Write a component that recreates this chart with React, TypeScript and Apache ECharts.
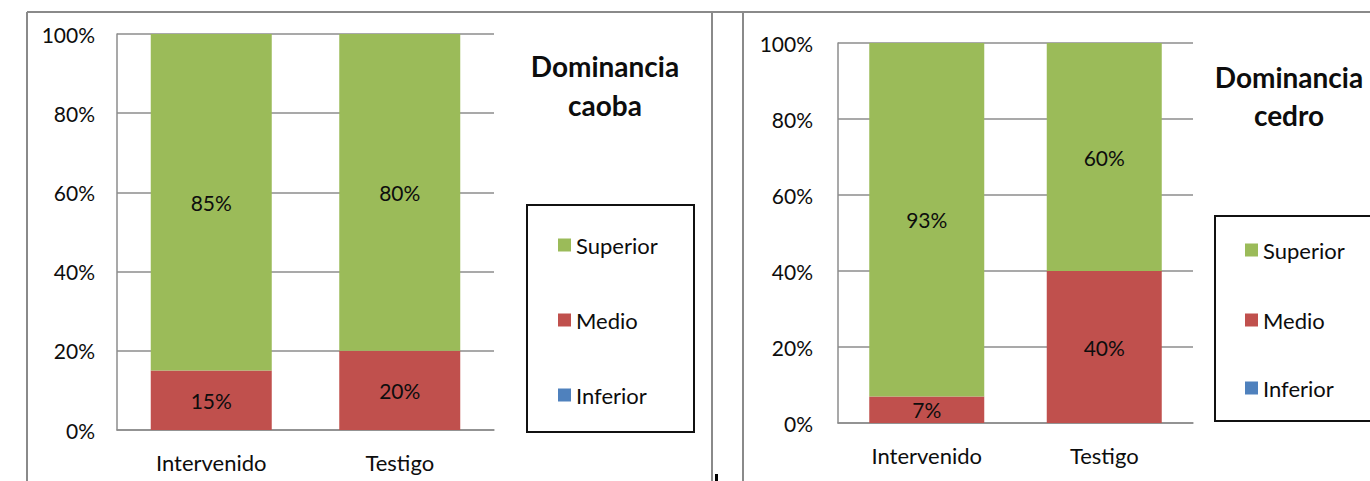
import React, { useEffect, useRef } from "react";
import * as echarts from "echarts";

const categories = ["Intervenido", "Testigo"];
const seriesNames = ["Inferior", "Medio", "Superior"];
const caobaInferior = [0, 0];
const caobaMedio = [0.15, 0.2];
const caobaSuperior = [0.85, 0.8];
const cedroInferior = [0, 0];
const cedroMedio = [0.07, 0.4];
const cedroSuperior = [0.93, 0.6];
const yTicks = [0, 0.2, 0.4, 0.6, 0.8, 1];
const titles = ["Dominancia\ncaoba", "Dominancia\ncedro"];

const COLORS: Record<string, string> = {
  Superior: "#9BBB59",
  Medio: "#C0504D",
  Inferior: "#4F81BD",
};
const FONT = "Lato";
const GRID = "#8c8c8c";
const TXT = "#0d0d0d";

export default function App() {
  const ref = useRef<HTMLDivElement>(null);
  useEffect(() => {
    if (!ref.current) return;
    const chart = echarts.init(ref.current, undefined, { renderer: "svg" });
    const pct = (v: number) => Math.round(v * 100) + "%";

    const mkY = (gridIndex: number, margin: number) => ({
      type: "value",
      gridIndex,
      min: yTicks[0],
      max: yTicks[yTicks.length - 1],
      interval: yTicks[1] - yTicks[0],
      axisLine: { show: true, lineStyle: { color: GRID, width: 1.5 } },
      axisTick: { show: false },
      splitLine: { show: true, lineStyle: { color: GRID, width: 1.5 } },
      axisLabel: {
        formatter: (v: number) => pct(v),
        fontFamily: FONT,
        fontSize: 21,
        color: TXT,
        margin,
      },
    });
    const mkX = (gridIndex: number) => ({
      type: "category",
      gridIndex,
      data: categories,
      axisLine: { show: true, lineStyle: { color: GRID, width: 1.5 } },
      axisTick: { show: false },
      axisLabel: { fontFamily: FONT, fontSize: 22, color: TXT, margin: 21 },
    });

    const dataSets = [
      { Inferior: caobaInferior, Medio: caobaMedio, Superior: caobaSuperior },
      { Inferior: cedroInferior, Medio: cedroMedio, Superior: cedroSuperior },
    ];
    const barWidths = [121, 115];
    const series: any[] = [];
    dataSets.forEach((ds: any, gi) => {
      seriesNames.forEach((name) => {
        series.push({
          type: "bar",
          name,
          stack: "s" + gi,
          xAxisIndex: gi,
          yAxisIndex: gi,
          barWidth: barWidths[gi],
          data: ds[name],
          itemStyle: { color: COLORS[name] },
          label: {
            show: name !== "Inferior",
            position: "inside",
            formatter: (p: any) => pct(p.value),
            fontFamily: FONT,
            fontSize: 21,
            color: TXT,
          },
        });
      });
    });

    const legendPos = [
      { x: 558, ys: [244, 319, 394] },
      { x: 1245, ys: [249, 319, 387] },
    ];
    const legendOrder = ["Superior", "Medio", "Inferior"];
    const legends: any[] = [];
    legendPos.forEach((lp) => {
      legendOrder.forEach((name, i) => {
        legends.push({
          data: [name],
          orient: "vertical",
          left: lp.x,
          top: lp.ys[i] - 10,
          padding: 0,
          itemWidth: 13,
          itemHeight: 13,
          icon: "rect",
          selectedMode: false,
          textStyle: { fontFamily: FONT, fontSize: 22, color: TXT, lineHeight: 20 },
        });
      });
    });

    chart.setOption({
      animation: false,
      backgroundColor: "#ffffff",
      title: [
        {
          text: titles[0],
          left: 605,
          top: 46,
          textAlign: "center",
          padding: 0,
          textStyle: { fontFamily: FONT, fontWeight: "bold", fontSize: 28, lineHeight: 39, color: TXT },
        },
        {
          text: titles[1],
          left: 1289,
          top: 58,
          textAlign: "center",
          padding: 0,
          textStyle: { fontFamily: FONT, fontWeight: "bold", fontSize: 28, lineHeight: 38, color: TXT },
        },
      ],
      legend: legends,
      grid: [
        { left: 117, top: 34, width: 377, height: 396 },
        { left: 838, top: 43, width: 355, height: 380 },
      ],
      xAxis: [mkX(0), mkX(1)],
      yAxis: [mkY(0, 22), mkY(1, 25)],
      series,
      graphic: [
        { type: "line", shape: { x1: 27, y1: 12, x2: 1370, y2: 12 }, style: { stroke: "#8a8a8a", lineWidth: 2 } },
        { type: "line", shape: { x1: 27, y1: 12, x2: 27, y2: 481 }, style: { stroke: "#8a8a8a", lineWidth: 2 } },
        { type: "line", shape: { x1: 712, y1: 12, x2: 712, y2: 481 }, style: { stroke: "#8a8a8a", lineWidth: 2 } },
        { type: "line", shape: { x1: 743, y1: 12, x2: 743, y2: 481 }, style: { stroke: "#8a8a8a", lineWidth: 2 } },
        { type: "rect", shape: { x: 715, y: 474, width: 3, height: 7 }, style: { fill: "#000" } },
        { type: "rect", shape: { x: 527, y: 205, width: 167, height: 227 }, style: { fill: "none", stroke: "#111", lineWidth: 2 } },
        { type: "rect", shape: { x: 1215, y: 216, width: 170, height: 205 }, style: { fill: "none", stroke: "#111", lineWidth: 2 } },
      ],
    });
    return () => chart.dispose();
  }, []);
  return (
    <div
      ref={ref}
      style={{ position: "absolute", left: 0, top: 0, width: 1370, height: 481 }}
    />
  );
}
